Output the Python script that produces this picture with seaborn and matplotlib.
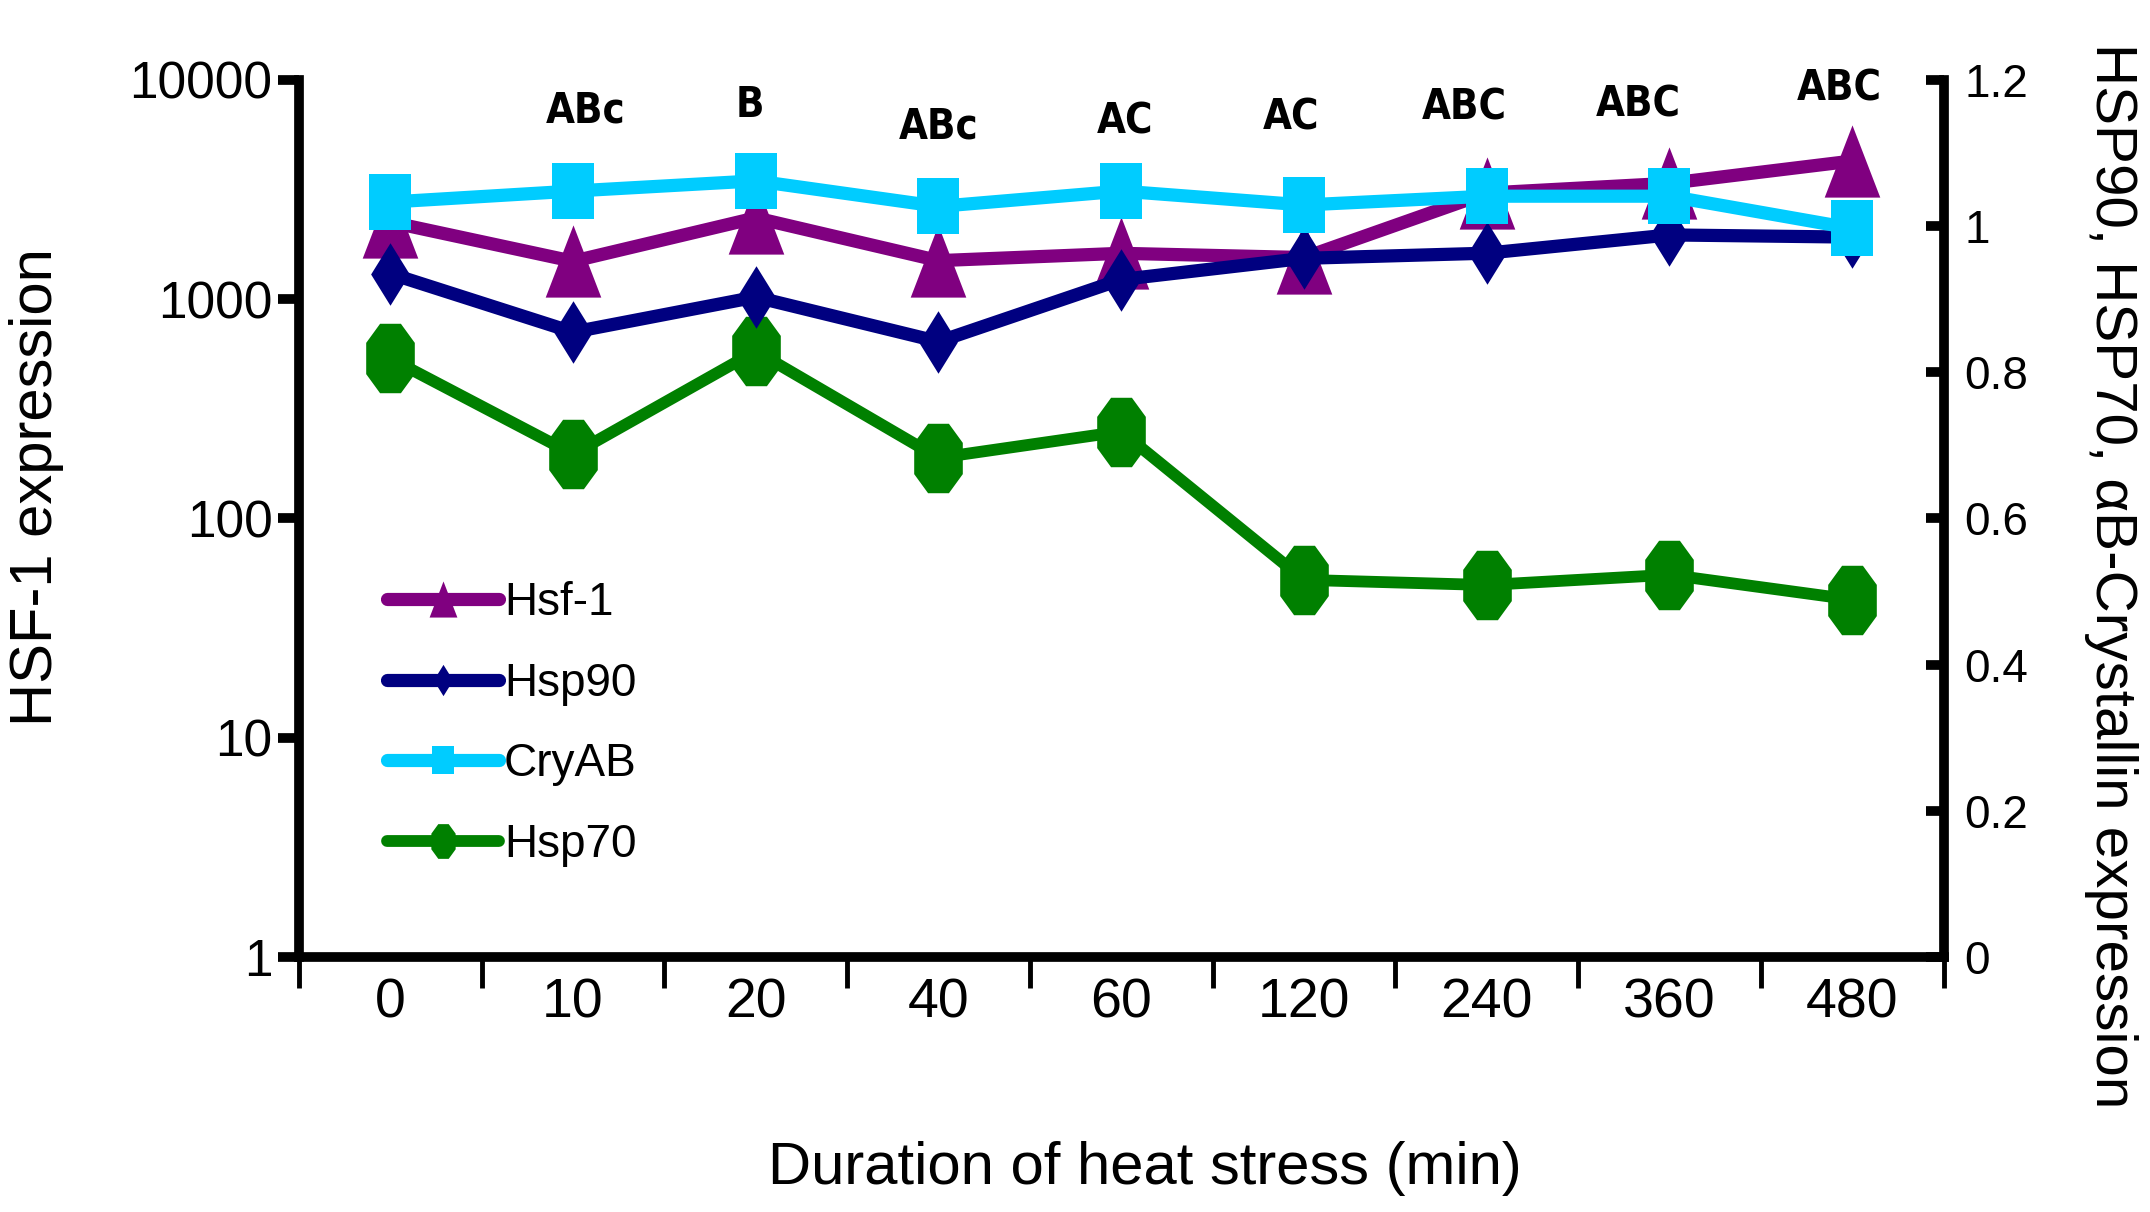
import numpy as np
import pandas as pd
import matplotlib.pyplot as plt
import seaborn as sns
from matplotlib.ticker import FixedLocator, NullLocator

# values
durations = ["0", "10", "20", "40", "60", "120", "240", "360", "480"]
hsf1 = [2250, 1490, 2350, 1500, 1620, 1550, 3050, 3380, 4270]
hsp90 = [0.935, 0.855, 0.903, 0.842, 0.927, 0.956, 0.963, 0.988, 0.985]
cryab = [1.033, 1.048, 1.062, 1.027, 1.048, 1.029, 1.041, 1.041, 0.997]
hsp70 = [0.819, 0.688, 0.829, 0.683, 0.719, 0.516, 0.509, 0.523, 0.489]
letters = ["", "ABc", "B", "ABc", "AC", "AC", "ABC", "ABC", "ABC"]

left_ticks = [1, 10, 100, 1000, 10000]
left_labels = ["1", "10", "100", "1000", "10000"]
right_ticks = [0, 0.2, 0.4, 0.6, 0.8, 1.0, 1.2]
right_labels = ["0", "0.2", "0.4", "0.6", "0.8", "1", "1.2"]

# where the significance letters sit (right-axis units) and small x nudges
letter_h = [0, 1.158, 1.166, 1.137, 1.143, 1.149, 1.163, 1.167, 1.189]
letter_dx = [0, 0.07, -0.03, 0, 0.02, -0.07, -0.12, -0.17, -0.07]

df = pd.DataFrame({"Duration": durations, "Hsf-1": hsf1, "Hsp90": hsp90,
                   "CryAB": cryab, "Hsp70": hsp70})

sns.set_style("ticks")
plt.rcParams['font.family'] = ['Liberation Sans', 'DejaVu Sans']
plt.rcParams.update({'text.color': 'black', 'axes.edgecolor': 'black',
                     'xtick.color': 'black', 'ytick.color': 'black',
                     'axes.labelcolor': 'black'})

# marker shapes (taller than wide, like the original)
tri = [(-0.77, -1), (0.77, -1), (0, 1)]
sq = [(-0.76, -1), (0.76, -1), (0.76, 1), (-0.76, 1)]
dia = [(0, 1), (0.62, 0), (0, -1), (-0.62, 0)]
octo = [(-0.3, 1), (0.3, 1), (0.7, 0.45), (0.7, -0.45), (0.3, -1),
        (-0.3, -1), (-0.7, -0.45), (-0.7, 0.45)]

fig = plt.figure(figsize=(21.5, 12.12), dpi=100)
ax = fig.add_axes([0.139, 0.2104, 0.765, 0.7236])
ax2 = ax.twinx()

sns.lineplot(data=df, x="Duration", y="Hsf-1", ax=ax, sort=False, color="#800080",
             lw=9.5, marker=tri, markersize=52, mew=0)
sns.lineplot(data=df, x="Duration", y="Hsp70", ax=ax2, sort=False, color="#008000",
             lw=8.5, marker=octo, markersize=50, mew=0)
sns.lineplot(data=df, x="Duration", y="Hsp90", ax=ax2, sort=False, color="#000080",
             lw=9.5, marker=dia, markersize=45, mew=0)
sns.lineplot(data=df, x="Duration", y="CryAB", ax=ax2, sort=False, color="#00CCFF",
             lw=9.5, marker=sq, markersize=40, mew=0)

# x axis: labels at centres, tick marks between categories
ax.set_xlim(-0.5, 8.5)
ax.xaxis.set_minor_locator(FixedLocator(np.arange(-0.5, 9.0, 1.0)))
ax.tick_params(axis='x', which='major', length=0, pad=15, labelsize=40)
ax.tick_params(axis='x', which='minor', length=22, width=3.5, direction='out')

ax.set_yscale('log')
ax.set_ylim(1, 10000)
ax.set_yticks(left_ticks, labels=left_labels)
ax.yaxis.set_minor_locator(NullLocator())
ax.tick_params(axis='y', length=15, width=7, pad=4, labelsize=37)

ax2.set_ylim(0, 1.2)
ax2.set_yticks(right_ticks, labels=right_labels)
ax2.tick_params(axis='y', direction='in', length=13, width=7, pad=15, labelsize=33)

for s in ['top', 'right']:
    ax.spines[s].set_visible(False)
for s in ['top', 'left', 'bottom']:
    ax2.spines[s].set_visible(False)
for sp in [ax.spines['left'], ax.spines['bottom'], ax2.spines['right']]:
    sp.set_linewidth(7)

ax.set_xlabel("")
ax.set_ylabel("")
ax2.set_ylabel("")

for i, txt in enumerate(letters):
    if txt:
        ax2.text(i + letter_dx[i], letter_h[i], txt, ha='center', va='center',
                 fontsize=30, fontweight='bold', fontstretch='condensed',
                 family=['DejaVu Sans'])

handles = [ax.lines[0], ax2.lines[1], ax2.lines[2], ax2.lines[0]]
ax2.legend(handles, ["Hsf-1", "Hsp90", "CryAB", "Hsp70"], loc='center left',
           bbox_to_anchor=(0.180, 0.4026), bbox_transform=fig.transFigure,
           frameon=False, fontsize=33, markerscale=0.5, handlelength=2.45,
           handletextpad=0.1, labelspacing=0.8, borderpad=0, borderaxespad=0)

fig.text(0.017, 0.598, "HSF-1 expression", rotation=90, ha='center', va='center',
         fontsize=43)
fig.text(0.982, 0.525, "HSP90, HSP70, αB-Crystallin expression", rotation=270,
         ha='center', va='center', fontsize=42)
fig.text(0.5326, 0.036, "Duration of heat stress (min)", ha='center', va='center',
         fontsize=43)

fig.savefig("out.png", dpi=100)
